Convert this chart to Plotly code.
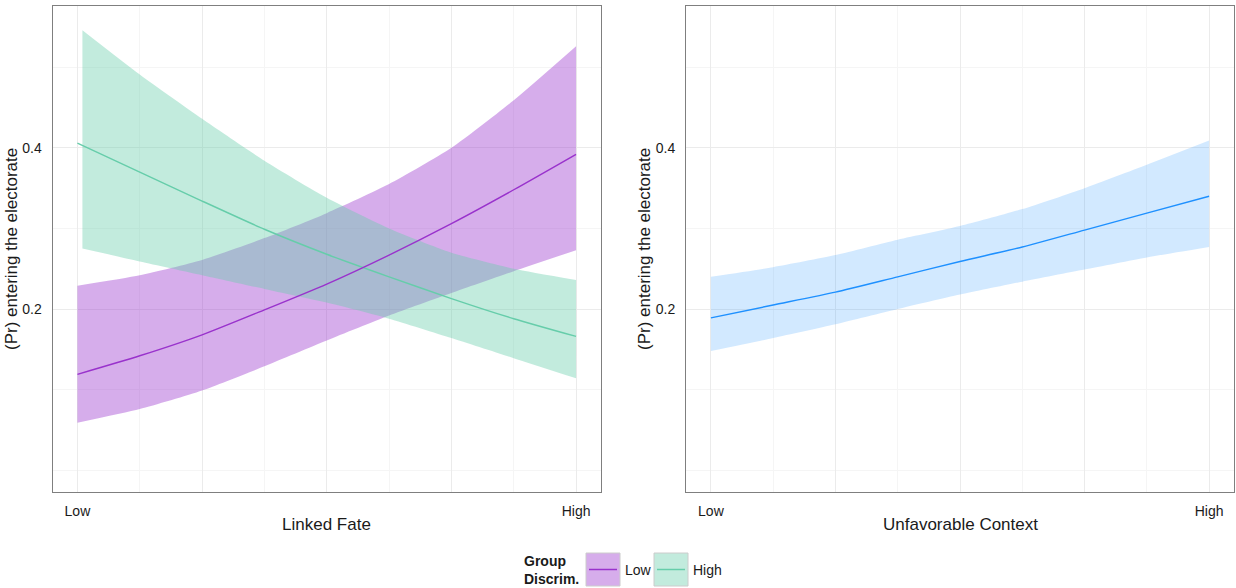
import plotly.graph_objects as go

# ---------------- data ----------------
x_grid = [0, 0.125, 0.25, 0.375, 0.5, 0.625, 0.75, 0.875, 1.0]
x_green_band = [0.01, 0.125, 0.25, 0.375, 0.5, 0.625, 0.75, 0.875, 1.0]

low_fit = [0.119, 0.142, 0.168, 0.199, 0.231, 0.267, 0.306, 0.348, 0.392]
low_upper = [0.229, 0.242, 0.261, 0.288, 0.319, 0.355, 0.400, 0.459, 0.526]
low_lower = [0.059, 0.076, 0.099, 0.129, 0.161, 0.192, 0.220, 0.247, 0.273]

high_fit = [0.406, 0.370, 0.334, 0.299, 0.268, 0.240, 0.213, 0.188, 0.166]
high_upper = [0.546, 0.491, 0.436, 0.384, 0.338, 0.300, 0.270, 0.250, 0.236]
high_lower = [0.275, 0.259, 0.242, 0.225, 0.208, 0.188, 0.164, 0.139, 0.114]

ctx_fit = [0.189, 0.205, 0.221, 0.240, 0.259, 0.277, 0.298, 0.319, 0.340]
ctx_upper = [0.240, 0.252, 0.267, 0.286, 0.303, 0.324, 0.350, 0.379, 0.409]
ctx_lower = [0.148, 0.164, 0.181, 0.200, 0.218, 0.234, 0.249, 0.264, 0.277]

x_tick_vals = [0, 0.25, 0.5, 0.75, 1.0]
x_tick_text = ["Low", "", "", "", "High"]
y_tick_vals = [0.2, 0.4]
y_tick_text = ["0.2", "0.4"]
y_minor_vals = [0.0, 0.1, 0.3, 0.5]
x_minor_vals = [0.125, 0.375, 0.625, 0.875]

legend_title = "Group<br>Discrim."
legend_labels = ["Low", "High"]

# ---------------- style ----------------
PURPLE = "#9932CC"
PURPLE_FILL = "rgba(153,50,204,0.4)"
GREEN = "#66CDAA"
GREEN_FILL = "rgba(102,205,170,0.4)"
BLUE = "#1E90FF"
BLUE_FILL = "rgba(30,144,255,0.2)"
FONT = "Liberation Sans, Arial, sans-serif"
TXT = "#1a1a1a"

W, H = 1236, 588


def px(x):
    return x / W


def py(y):
    return 1 - y / H


fig = go.Figure()
SPL = dict(shape="spline", smoothing=0.6)


def band(x, up, lo, fill, xa, ya):
    fig.add_trace(go.Scatter(
        x=x, y=lo, mode="lines", line=dict(width=0, **SPL),
        hoverinfo="skip", showlegend=False, xaxis=xa, yaxis=ya))
    fig.add_trace(go.Scatter(
        x=x, y=up, mode="lines", line=dict(width=0, **SPL),
        fill="tonexty", fillcolor=fill,
        hoverinfo="skip", showlegend=False, xaxis=xa, yaxis=ya))


def fitline(x, y, color, xa, ya):
    fig.add_trace(go.Scatter(
        x=x, y=y, mode="lines", line=dict(color=color, width=1.4, **SPL),
        showlegend=False, xaxis=xa, yaxis=ya))


band(x_grid, low_upper, low_lower, PURPLE_FILL, "x", "y")
band(x_green_band, high_upper, high_lower, GREEN_FILL, "x", "y")
fitline(x_grid, high_fit, GREEN, "x", "y")
fitline(x_grid, low_fit, PURPLE, "x", "y")

band(x_grid, ctx_upper, ctx_lower, BLUE_FILL, "x2", "y2")
fitline(x_grid, ctx_fit, BLUE, "x2", "y2")

xaxis_common = dict(
    range=[-0.05, 1.05], tickvals=x_tick_vals, ticktext=x_tick_text,
    showgrid=True, gridcolor="#EBEBEB", gridwidth=1, zeroline=False,
    showline=True, linecolor="#7F7F7F", linewidth=1, mirror=True,
    ticks="", ticklabelstandoff=6,
    tickfont=dict(family=FONT, size=14, color=TXT),
    minor=dict(tickvals=x_minor_vals, showgrid=True, gridcolor="#F5F5F5", gridwidth=1),
    automargin=False, fixedrange=True,
)
yaxis_common = dict(
    range=[-0.027, 0.576], tickvals=y_tick_vals, ticktext=y_tick_text,
    showgrid=True, gridcolor="#EBEBEB", gridwidth=1, zeroline=False,
    showline=True, linecolor="#7F7F7F", linewidth=1, mirror=True,
    ticks="", ticklabelstandoff=7,
    tickfont=dict(family=FONT, size=14, color=TXT),
    minor=dict(tickvals=y_minor_vals, showgrid=True, gridcolor="#F5F5F5", gridwidth=1),
    automargin=False, fixedrange=True,
)

fig.update_layout(
    width=W, height=H,
    margin=dict(l=0, r=0, t=0, b=0),
    paper_bgcolor="white", plot_bgcolor="white",
    font=dict(family=FONT, color=TXT),
    showlegend=False,
    xaxis=dict(xaxis_common, domain=[px(52.5), px(601)], anchor="y"),
    yaxis=dict(yaxis_common, domain=[py(492), py(6)], anchor="x"),
    xaxis2=dict(xaxis_common, domain=[px(686), px(1234)], anchor="y2"),
    yaxis2=dict(yaxis_common, domain=[py(492), py(6)], anchor="x2"),
)

ann = []
# axis titles
ann.append(dict(text="Linked Fate", x=px(326.5), y=py(524), xref="paper", yref="paper",
                showarrow=False, font=dict(size=17, family=FONT, color=TXT),
                xanchor="center", yanchor="middle"))
ann.append(dict(text="Unfavorable Context", x=px(960), y=py(524), xref="paper", yref="paper",
                showarrow=False, font=dict(size=17, family=FONT, color=TXT),
                xanchor="center", yanchor="middle"))
for xt in (11, 644):
    ann.append(dict(text="(Pr) entering the electorate", x=px(xt), y=py(249), xref="paper", yref="paper",
                    showarrow=False, textangle=-90, font=dict(size=17, family=FONT, color=TXT),
                    xanchor="center", yanchor="middle"))

# legend
ann.append(dict(text="<b>" + legend_title + "</b>", x=px(522), y=py(569.5), xref="paper", yref="paper",
                showarrow=False, align="left", xanchor="left", yanchor="middle",
                font=dict(size=14, family=FONT, color=TXT)))
shapes = []
boxes = [(586, 620, PURPLE_FILL, PURPLE), (654, 688, GREEN_FILL, GREEN)]
for (x0, x1, fc, lc), lab in zip(boxes, legend_labels):
    shapes.append(dict(type="rect", xref="paper", yref="paper",
                       x0=px(x0), x1=px(x1), y0=py(586), y1=py(553),
                       fillcolor=fc, line=dict(color="#CCCCCC", width=1)))
    shapes.append(dict(type="line", xref="paper", yref="paper",
                       x0=px(x0 + 3), x1=px(x1 - 3), y0=py(569.5), y1=py(569.5),
                       line=dict(color=lc, width=1.5)))
    ann.append(dict(text=lab, x=px(x1 + 3), y=py(569.5), xref="paper", yref="paper",
                    showarrow=False, xanchor="left", yanchor="middle",
                    font=dict(size=14, family=FONT, color=TXT)))

fig.update_layout(annotations=ann, shapes=shapes)

fig.write_html("out.html", config={"displayModeBar": False},
               post_script="document.body.style.margin='0';document.body.style.overflow='hidden';")
